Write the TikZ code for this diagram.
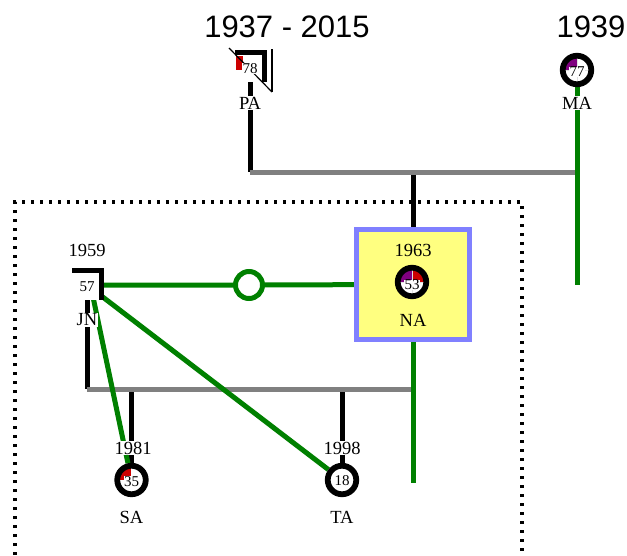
\documentclass[tikz,border=0pt]{standalone}
\usepackage{fontspec}
\setmainfont{Liberation Serif}
\newfontfamily\yearfont{Liberation Sans}
\usetikzlibrary{calc}
\definecolor{kin}{HTML}{008000}
\definecolor{bar}{HTML}{808080}
\definecolor{frameblue}{HTML}{8080FF}
\definecolor{hilite}{HTML}{FFFF80}
\definecolor{pieviolet}{HTML}{800080}
\definecolor{piered}{HTML}{CC0000}
\pgfdeclarelayer{links}
\pgfsetlayers{links,main}
\begin{document}
\begin{tikzpicture}[x=1pt,y=-1pt,
  wire/.style={line width=5pt},
  blackline/.style={wire, draw=black},
  greyline/.style={wire, draw=bar},
  greenline/.style={wire, draw=kin},
  household/.style={line width=4pt, dash pattern=on 3pt off 6pt},
  sqbox/.style={rectangle, fill=white, minimum size=29pt, inner sep=0pt},
  shadowL/.style={line width=5pt, line join=miter},
  deathmark/.style={line width=1.2pt},
  circ/.style={circle, draw=black, line width=5.8pt, minimum size=28.5pt,
    inner sep=0pt, fill=white},
  quads/.style n args={5}{path picture={
    \fill[#1] (path picture bounding box.center) rectangle (path picture bounding box.north west);
    \fill[#2] (path picture bounding box.center) rectangle (path picture bounding box.north east);
    \fill[#3] (path picture bounding box.center) rectangle (path picture bounding box.south east);
    \fill[#4] (path picture bounding box.center) rectangle (path picture bounding box.south west);
    \draw[#5, line width=0.6pt] (path picture bounding box.west) -- (path picture bounding box.east)
      (path picture bounding box.north) -- (path picture bounding box.south);}},
  focusbox/.style={rectangle, draw=frameblue, fill=hilite, line width=5pt,
    minimum width=113pt, minimum height=110pt},
  ringmark/.style={circle, draw=kin, fill=white, line width=5pt, minimum size=27pt, inner sep=0pt},
  namelbl/.style={font=\fontsize{18.5}{20}\selectfont, fill=white, inner sep=1pt},
  yearlbl/.style={font=\fontsize{18.5}{20}\selectfont, fill=white, inner sep=1pt},
  bigyear/.style={font=\yearfont\fontsize{31}{33}\selectfont, inner sep=0pt},
  agelbl/.style={font=\fontsize{15}{16}\selectfont, fill=white, inner sep=0.2pt},
  ]
\useasboundingbox (0,0) rectangle (627,555);

% household frame
\draw[household] (15,555) -- (15,202) -- (522,202) -- (522,555);

% --- PA (male, deceased) ---
\node[bigyear] (pa-yr) at (287,27) {1937 - 2015};
\node[sqbox] (pa) at (250,67) {};
\fill[piered] ($(pa.north west)+(0.5,4)$) rectangle ++(7,13.5);
\draw[deathmark] ($(pa.center)+(-21,-19)$) -- ($(pa.center)+(22,25)$);
\draw[deathmark] ($(pa.center)+(22,-18)$) -- ($(pa.center)+(22,25)$);
\draw[shadowL] (pa.north west) -- (pa.north east) -- (pa.south east);
\node[agelbl] (pa-age) at ($(pa.center)+(0,1.5)$) {78};
\node[namelbl] (pa-name) at (250,103) {PA};

% --- MA ---
\node[bigyear] (ma-yr) at (591,27) {1939};
\node[circ, quads={pieviolet}{white}{white}{white}{black!12}] (ma) at (577,70) {};
\node[agelbl] (ma-age) at ($(ma)+(0,2)$) {77};
\node[namelbl] (ma-name) at (577,103) {MA};
\coordinate (ma-end) at (577,285);

% --- NA (focus) ---
\node[focusbox] (na) at (413,284.5) {};
\node[yearlbl, fill=none] (na-yr) at (413,250) {1963};
\node[circ, quads={pieviolet}{piered}{white}{white}{black!12}] (na-c) at (412,282) {};
\node[agelbl] (na-age) at ($(na-c)+(0,3)$) {53};
\node[namelbl, fill=none] (na-name) at (413,320) {NA};
\coordinate (na-end) at (413,483);

% --- JN ---
\node[yearlbl] (jn-yr) at (87,250) {1959};
\node[sqbox] (jn) at (87,285) {};
\draw[shadowL] (jn.north west) -- (jn.north east) -- (jn.south east);
\node[agelbl] (jn-age) at (87,287) {57};
\node[namelbl] (jn-name) at (87,320) {JN};

% partnership marker
\node[ringmark] (link) at (249,285) {};

% --- children ---
\node[circ, quads={piered}{white}{white}{white}{white}] (sa) at (131.5,480) {};
\node[agelbl] (sa-age) at ($(sa)+(0,1.5)$) {35};
\node[yearlbl] (sa-yr) at (133,448) {1981};
\node[namelbl] (sa-name) at (131.5,517) {SA};

\node[circ] (ta) at (342,480) {};
\node[agelbl] (ta-age) at ($(ta)+(0,1)$) {18};
\node[yearlbl] (ta-yr) at (342,448) {1998};
\node[namelbl] (ta-name) at (342,517) {TA};

% union points
\coordinate (u1) at (413,172);
\coordinate (u2) at (250,389);

\begin{pgfonlayer}{links}
  \draw[blackline] (pa) -- (pa |- u1);
  \draw[blackline] (u1) -- (na);
  \draw[blackline] (jn) -- (jn |- u2);
  \draw[blackline] (sa |- u2) -- (sa);
  \draw[blackline] (ta |- u2) -- (ta);
  \draw[greyline] (pa |- u1) -- (ma |- u1);
  \draw[greyline] (jn |- u2) -- (na |- u2);
  \draw[greenline] (ma) -- (ma-end);
  \draw[greenline] (na) -- (na-end);
  \draw[greenline] (jn) -- (link) -- (na);
  \draw[greenline] ([xshift=3.5pt]jn.center) -- (sa);
  \draw[greenline] (jn) -- (ta);
\end{pgfonlayer}
\end{tikzpicture}
\end{document}
